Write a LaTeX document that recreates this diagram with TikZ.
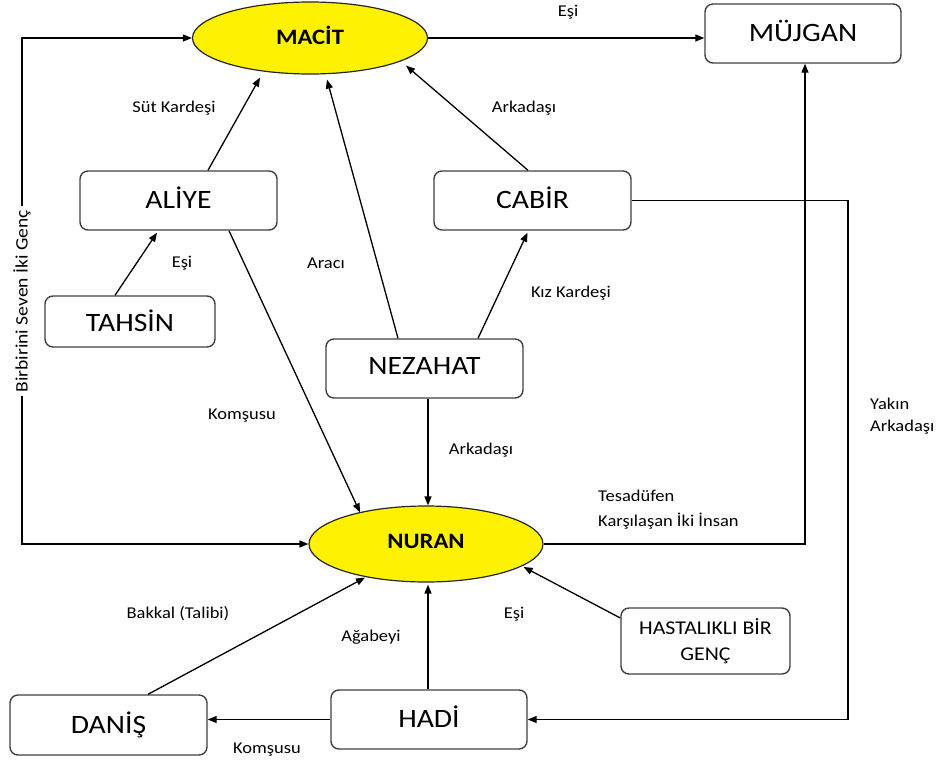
\documentclass[tikz,border=0pt]{standalone}
\usepackage{fontspec}
\setmainfont{Carlito}[FakeStretch=1.12]
\usetikzlibrary{arrows.meta,shapes.geometric,calc}
\begin{document}
\begin{tikzpicture}[x=1pt,y=-1pt,
  box/.style={draw=black!75, line width=1.4pt, rounded corners=8pt, fill=white,
    font=\fontsize{26.5}{29}\selectfont, inner sep=0pt, align=center},
  oval/.style={ellipse, draw=black!85, line width=1.2pt, fill=yellow,
    font=\fontsize{22}{24}\selectfont\bfseries, inner sep=0pt},
  lbl/.style={font=\fontsize{16.5}{20}\selectfont, inner sep=0pt},
  tip/.style={-{Triangle[length=9pt,width=7pt]}},
  plainln/.style={line width=1.3pt},
  conn/.style={plainln, tip}
]
\useasboundingbox (0,0) rectangle (940,760);

% nodes
\node[oval, minimum width=235pt, minimum height=72pt] (macit) at (310,38) {\raisebox{6pt}{MACİT}};
\node[box, minimum width=196pt, minimum height=59pt] (mujgan) at (803,33.5) {\raisebox{6pt}{MÜJGAN}};
\node[box, minimum width=197pt, minimum height=59pt] (aliye) at (178.5,200.5) {\raisebox{5pt}{ALİYE}};
\node[box, minimum width=197pt, minimum height=59pt] (cabir) at (532.5,200.5) {\raisebox{5pt}{CABİR}};
\node[box, minimum width=170pt, minimum height=51pt] (tahsin) at (130,321.5) {\raisebox{2pt}{TAHSİN}};
\node[box, minimum width=197pt, minimum height=59pt] (nezahat) at (424.5,368.5) {\raisebox{5pt}{NEZAHAT}};
\node[oval, minimum width=234pt, minimum height=76pt] (nuran) at (426,544) {\raisebox{6pt}{NURAN}};
\node[box, minimum width=169pt, minimum height=66pt, font=\fontsize{19.5}{26}\selectfont] (hast) at (705.5,641) {HASTALIKLI BİR\\GENÇ};
\node[box, minimum width=197pt, minimum height=60pt] (danis) at (108.5,725) {\raisebox{4pt}{DANİŞ}};
\node[box, minimum width=196pt, minimum height=59pt] (hadi) at (429,719.5) {\raisebox{5pt}{HADİ}};

% connectors
\draw[conn] (macit.east) -- (macit.east -| mujgan.west);
\coordinate (tl) at (22,38);
\coordinate (bl) at (22,544);
\draw[plainln, {Triangle[length=9pt,width=7pt]}-{Triangle[length=9pt,width=7pt]}]
  (macit.west) -- (tl) -- node[pos=0.52, fill=white, rotate=90, lbl, font=\fontsize{17.5}{20}\selectfont, inner sep=4pt]{Birbirini Seven İki Genç} (bl) -- (nuran.west);
\draw[conn] ($(aliye.north)+(29.5,0)$) -- ($(macit.south)+(-50,3)$);
\draw[conn] ($(tahsin.north)+(-15,0)$) -- ($(aliye.south)+(-21.5,2)$);
\draw[conn] ($(aliye.south)+(50.5,0)$) -- ($(nuran.north)+(-66,7)$);
\draw[conn] ($(nezahat.north)+(-26.5,0)$) -- ($(macit.south)+(17,5)$);
\draw[conn] ($(cabir.north)+(-4.5,0)$) -- ($(macit.south)+(96,-9)$);
\draw[conn] ($(nezahat.north)+(53.5,0)$) -- ($(cabir.south)+(-5,2)$);
\draw[conn] ($(nezahat.south)+(3.5,0)$) -- ($(nuran.north)+(2,0)$);
\draw[conn] (nuran.east) -| ($(mujgan.south)+(2,0)$);
\coordinate (cr) at (848,719.5);
\draw[conn] (cabir.east) -| (cr) -- (hadi.east);
\draw[conn] ($(hadi.north)+(-1,0)$) -- ($(nuran.south)+(2,2)$);
\draw[conn] ($(danis.north)+(39.5,0)$) -- ($(nuran.south)+(-61,-5)$);
\draw[conn] ($(hast.west)+(0,-23)$) -- ($(nuran.east)+(-20,23)$);
\draw[conn] (hadi.west) -- (hadi.west -| danis.east);

% labels
\node[lbl] (l1) at (568,12) {Eşi};
\node[lbl] (l2) at (174,108) {Süt Kardeşi};
\node[lbl] (l3) at (524,108) {Arkadaşı};
\node[lbl] (l4) at (182,263) {Eşi};
\node[lbl] (l5) at (326,263) {Aracı};
\node[lbl] (l6) at (571,293) {Kız Kardeşi};
\node[lbl] (l7) at (242,416) {Komşusu};
\node[lbl] (l8) at (481,450) {Arkadaşı};
\node[lbl, align=left, anchor=west, font=\fontsize{16.5}{22}\selectfont] (l9) at (870,416) {Yakın\\Arkadaşı};
\node[lbl, align=left, anchor=west, font=\fontsize{16.5}{25}\selectfont] (l10) at (598,509.5) {Tesadüfen\\Karşılaşan İki İnsan};
\node[lbl] (l11) at (178,614) {Bakkal (Talibi)};
\node[lbl] (l12) at (371,637) {Ağabeyi};
\node[lbl] (l13) at (514,614) {Eşi};
\node[lbl] (l14) at (267,750) {Komşusu};
\end{tikzpicture}
\end{document}
